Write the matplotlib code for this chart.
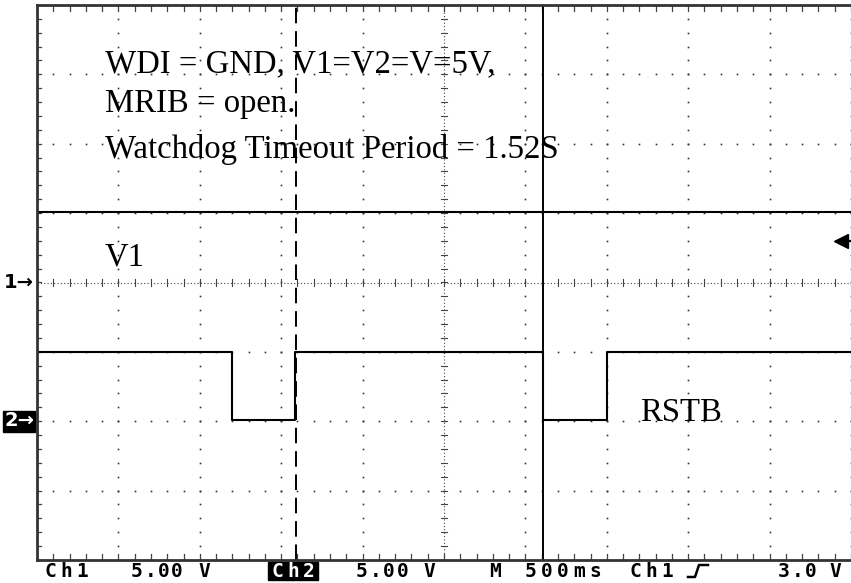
import matplotlib.pyplot as plt
import numpy as np
from matplotlib.patches import Rectangle
from matplotlib.lines import Line2D

# scope settings
volts_per_div = 5.0
sec_per_div = 0.5
ch1_offset = 0.0     # divisions
ch2_offset = -2.0
trigger_level = 3.0  # V

# V1 (Ch1) trace
v1_t = [0.0, 5.0]
v1_v = [5.1, 5.1]

# RSTB (Ch2) trace
rstb_t = [0.0, 1.20, 1.20, 1.585, 1.585, 3.11, 3.11, 3.50, 3.50, 5.0]
rstb_v = [5.0, 5.0, 0.1, 0.1, 5.0, 5.0, 0.1, 0.1, 5.0, 5.0]

# cursors (s)
cursor_dashed = 1.59
cursor_solid = 3.11

W, H = 851, 583
fig = plt.figure(figsize=(W / 100, H / 100), dpi=100)
ax = fig.add_axes([37 / W, (H - 560) / H, (W - 37) / W, (560 - 5) / H])
ax.set_xlim(0, 10)
ax.set_ylim(-4, 4)
ax.set_xticks([])
ax.set_yticks([])
for s in ['left', 'top', 'bottom']:
    ax.spines[s].set_linewidth(2)
    ax.spines[s].set_color('#333333')
ax.spines['right'].set_visible(False)

dot = dict(ls='none', marker='s', ms=1.2, mew=0, color='#333333', clip_on=False)
minor_x = np.arange(0, 10.01, 0.2)
minor_y = np.arange(-4, 4.01, 0.2)

# dotted graticule
for gx in [1, 2, 3, 4, 6, 7, 8, 9, 10]:
    ax.plot(np.full_like(minor_y, gx), minor_y, **dot)
for gy in [-3, -2, -1, 1, 2, 3]:
    ax.plot(minor_x, np.full_like(minor_x, gy), **dot)

# centre lines with small ticks
ax.axhline(0, ls=(0, (1, 2)), lw=0.8, color='#444444')
ax.axvline(5, ls=(0, (1, 2)), lw=0.8, color='#444444')
for mx in minor_x:
    ax.plot([mx, mx], [-0.05, 0.05], lw=0.8, color='#444444')
for my in minor_y:
    ax.plot([4.96, 5.04], [my, my], lw=0.8, color='#444444')

# border ticks
for mx in minor_x:
    ax.plot([mx, mx], [4, 3.92], lw=0.9, color='#444444')
    ax.plot([mx, mx], [-4, -3.92], lw=0.9, color='#444444')
for my in minor_y:
    ax.plot([0, 0.05], [my, my], lw=0.9, color='#444444')

# cursors
ax.axvline(cursor_dashed / sec_per_div, color='black', lw=1.4, ls=(0, (8, 4)))
ax.axvline(cursor_solid / sec_per_div, color='black', lw=1.4)

# traces
ax.plot(np.array(v1_t) / sec_per_div, np.array(v1_v) / volts_per_div + ch1_offset,
        color='black', lw=1.5)
ax.plot(np.array(rstb_t) / sec_per_div, np.array(rstb_v) / volts_per_div + ch2_offset,
        color='black', lw=1.5)

# trigger level arrow
ty = trigger_level / volts_per_div + ch1_offset
ax.plot([9.84, 10], [ty, ty], color='black', lw=1.6, clip_on=False)
ax.plot([9.88], [ty], marker='<', ms=10, color='black', clip_on=False)

# annotations
serif = dict(family='Liberation Serif', fontsize=23.6, va='baseline', ha='left')
ax.text(0.835, 3.03, 'WDI = GND, V1=V2=V=5V,', **serif)
ax.text(0.835, 2.46, 'MRIB = open.', **serif)
ax.text(0.835, 1.80, 'Watchdog Timeout Period = 1.52S', **serif)
ax.text(0.835, 0.24, 'V1', **serif)
ax.text(7.41, -2.0, 'RSTB', **serif)

# channel markers on the left
fig.text(4 / W, 1 - 283 / H, '1\u2192', family='DejaVu Sans', fontsize=14,
         fontweight='bold', va='center', ha='left')
fig.patches.append(Rectangle((3 / W, 1 - 432 / H), 32 / W, 21 / H,
                             transform=fig.transFigure, color='black'))
fig.text(4 / W, 1 - 421 / H, '2\u2192', family='DejaVu Sans', fontsize=14,
         fontweight='bold', va='center', ha='left', color='white')


# bottom status line, bitmap-like fixed pitch
def spaced(x0, s, pitch=13.5, color='black'):
    for i, c in enumerate(s):
        fig.text((x0 + i * pitch + pitch / 2) / W, 1 - 577 / H, c,
                 family='DejaVu Sans Mono', fontsize=14, fontweight='bold',
                 va='baseline', ha='center', color=color)


spaced(43, 'Ch1', pitch=15.5)
spaced(130, '5.00 V')
fig.patches.append(Rectangle((268 / W, 1 - 580 / H), 50 / W, 18 / H,
                             transform=fig.transFigure, color='black'))
spaced(270, 'Ch2', pitch=15.5, color='white')
spaced(355, '5.00 V')
spaced(488, 'M')
spaced(523, '500ms', pitch=16)
spaced(628, 'Ch1', pitch=15.5)
fig.lines.append(Line2D(np.array([688, 695, 699, 708]) / W,
                        1 - np.array([577, 577, 565, 565]) / H,
                        transform=fig.transFigure, color='black', lw=1.8))
spaced(777, '3.0')
spaced(827, 'V', pitch=16)

fig.savefig('out.png', dpi=100)
